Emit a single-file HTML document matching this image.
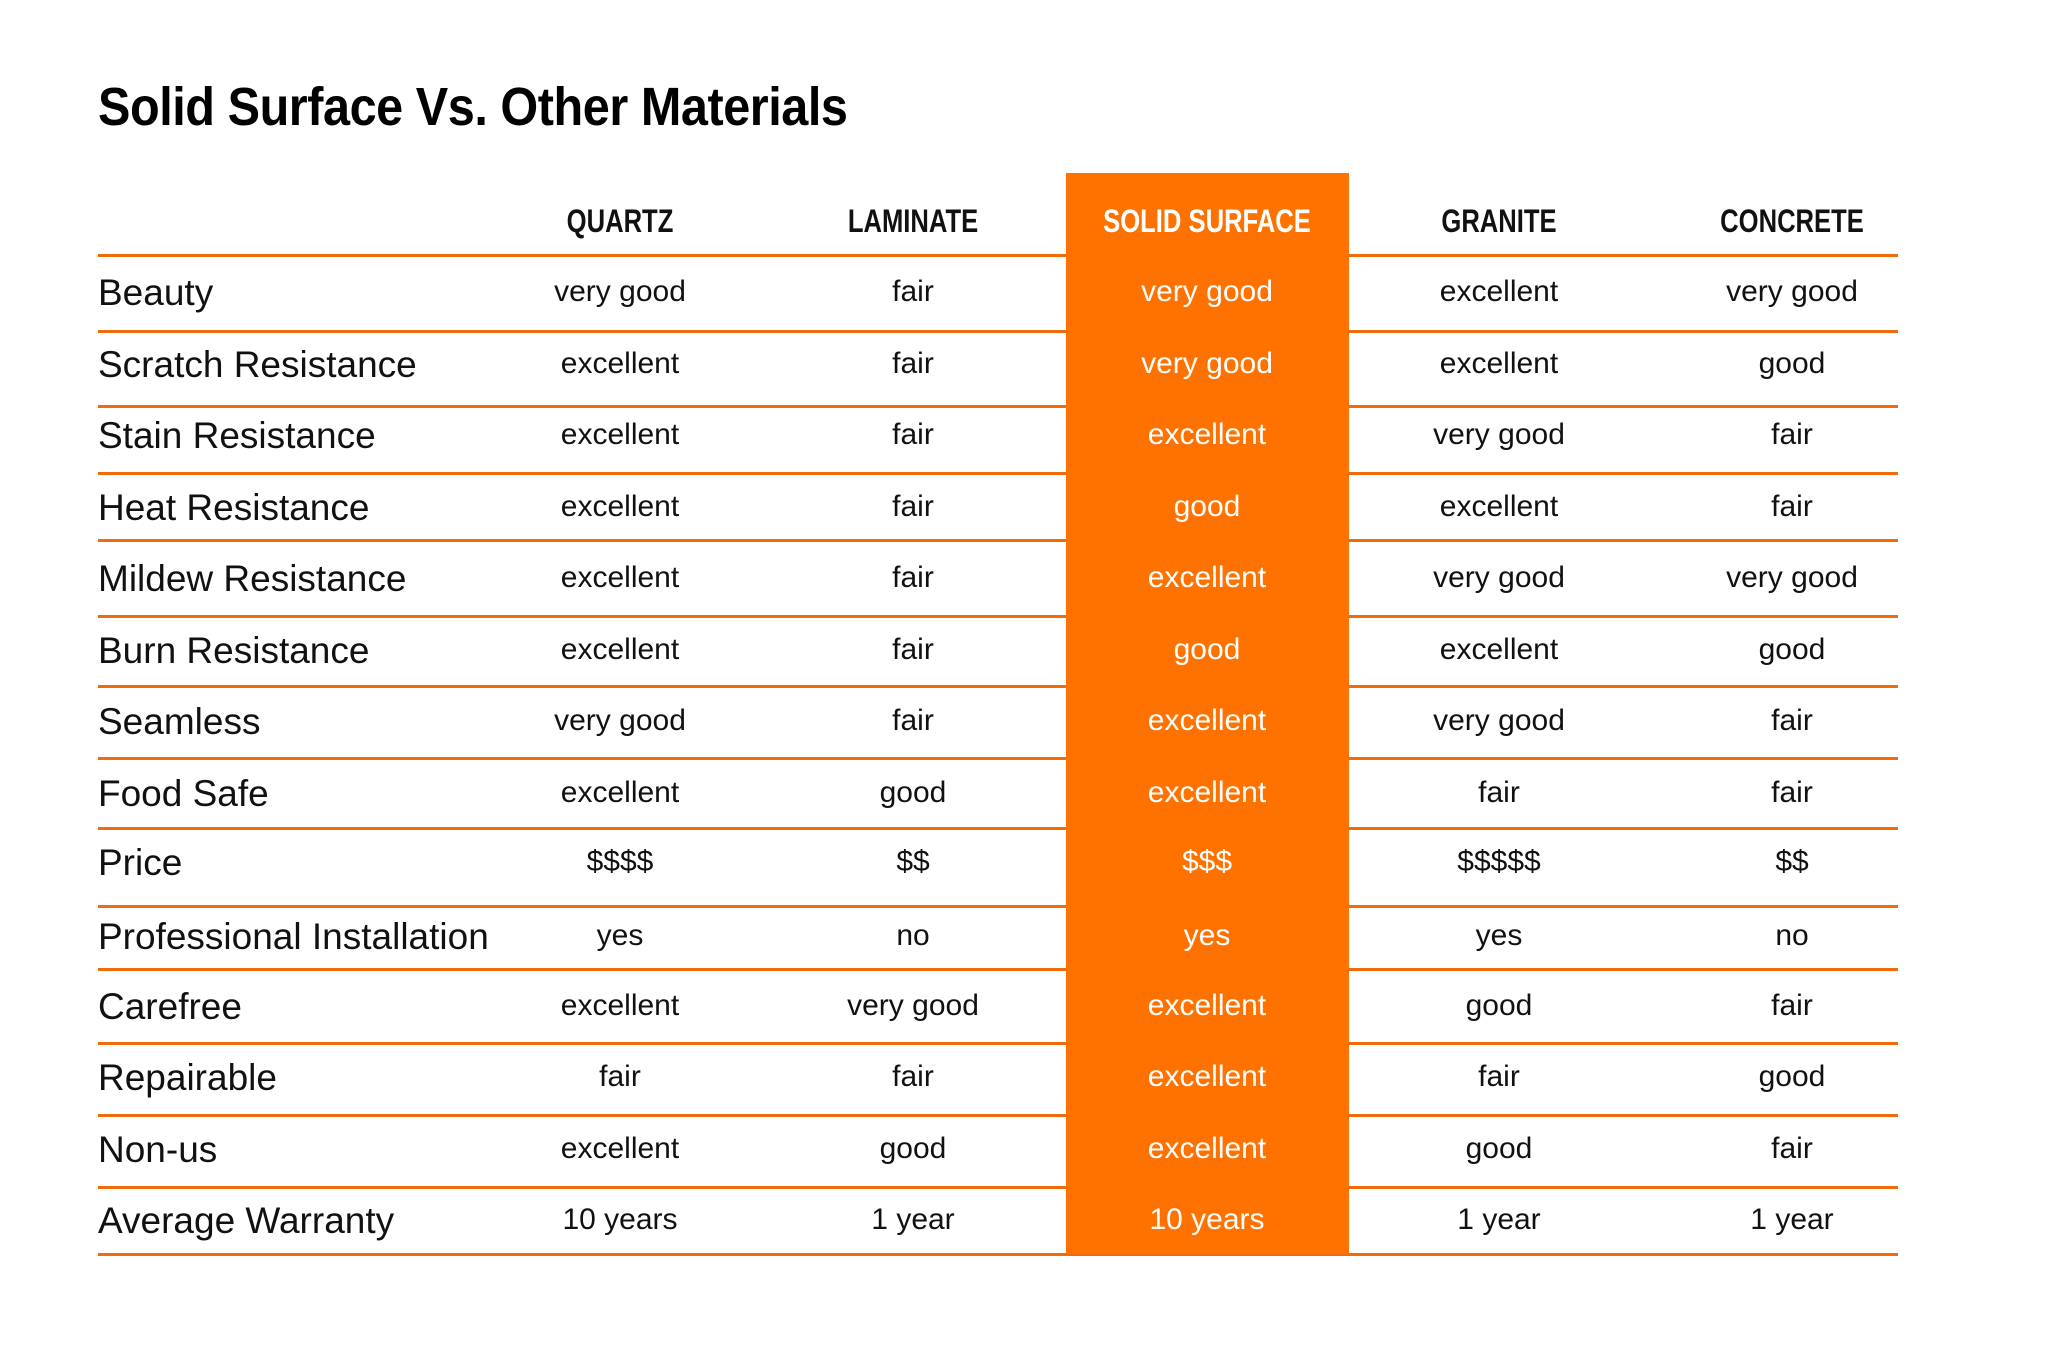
<!DOCTYPE html>
<html><head><meta charset="utf-8"><style>
body{margin:0;width:2048px;height:1360px;background:#fff;position:relative;overflow:hidden;font-family:"Liberation Sans",sans-serif;color:#111}
.t{position:absolute;left:98px;top:76px;font-size:54px;font-weight:bold;transform:scaleX(0.9);transform-origin:left;white-space:nowrap;letter-spacing:-0.5px;color:#000}
.box{position:absolute;left:1066px;top:173px;width:283px;height:1081px;background:#ff7200}
.ln{position:absolute;left:98px;width:1800px;height:2.5px;background:#f26b0a}
.c{position:absolute;width:280px;margin-left:-140px;text-align:center;font-size:30px;line-height:40px;white-space:nowrap}
.h{font-weight:bold;font-size:32px;transform:scaleX(0.8)}
.l{position:absolute;left:98px;font-size:37px;line-height:44px;white-space:nowrap}
.w{color:#fff}
</style></head><body>
<div class="t">Solid Surface Vs. Other Materials</div>
<script>
var y=[255,331,406,473,540,616,686,758,828,906,969,1043,1115,1187,1254];
y.forEach(function(v){var d=document.createElement('div');d.className='ln';d.style.top=(v-1)+'px';document.body.appendChild(d);});
var b=document.createElement('div');b.className='box';document.body.appendChild(b);
var xs=[620,913,1207,1499,1792];
var hd=['QUARTZ','LAMINATE','SOLID SURFACE','GRANITE','CONCRETE'];
hd.forEach(function(t,i){var d=document.createElement('div');d.className='c h'+(i==2?' w':'');d.style.left=xs[i]+'px';d.style.top=(221-20)+'px';d.textContent=t;document.body.appendChild(d);});
var cy=[293,365,436,508,579,651,722,794,863,937,1007,1078,1150,1221];
var rows=[
['Beauty','very good','fair','very good','excellent','very good'],
['Scratch Resistance','excellent','fair','very good','excellent','good'],
['Stain Resistance','excellent','fair','excellent','very good','fair'],
['Heat Resistance','excellent','fair','good','excellent','fair'],
['Mildew Resistance','excellent','fair','excellent','very good','very good'],
['Burn Resistance','excellent','fair','good','excellent','good'],
['Seamless','very good','fair','excellent','very good','fair'],
['Food Safe','excellent','good','excellent','fair','fair'],
['Price','$$$$','$$','$$$','$$$$$','$$'],
['Professional Installation','yes','no','yes','yes','no'],
['Carefree','excellent','very good','excellent','good','fair'],
['Repairable','fair','fair','excellent','fair','good'],
['Non-us','excellent','good','excellent','good','fair'],
['Average Warranty','10 years','1 year','10 years','1 year','1 year']];
rows.forEach(function(r,k){
 var l=document.createElement('div');l.className='l';l.style.top=(cy[k]-22)+'px';l.textContent=r[0];document.body.appendChild(l);
 for(var i=0;i<5;i++){var d=document.createElement('div');d.className='c'+(i==2?' w':'');d.style.left=xs[i]+'px';d.style.top=(cy[k]-21)+'px';d.textContent=r[i+1];document.body.appendChild(d);}
});
</script>
</body></html>
